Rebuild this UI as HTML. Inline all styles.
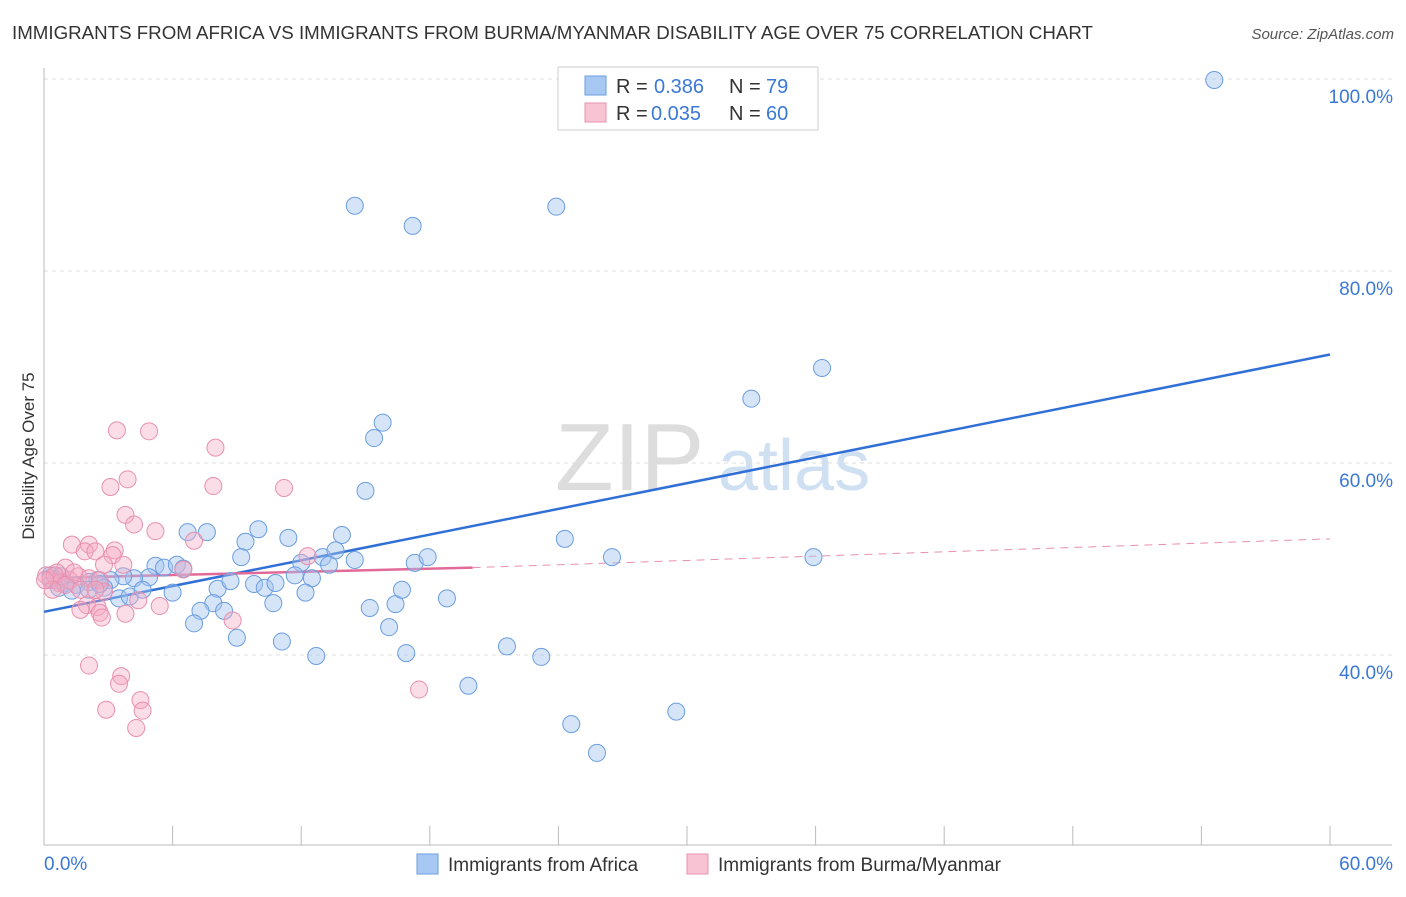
<!DOCTYPE html>
<html><head><meta charset="utf-8"><style>
body{margin:0;background:#fff;font-family:"Liberation Sans",sans-serif;}
svg text{font-family:"Liberation Sans",sans-serif;}
</style></head><body>
<svg id="chart" width="1406" height="892" xmlns="http://www.w3.org/2000/svg">
<text x="12" y="39" font-size="18" fill="#333" textLength="1081" lengthAdjust="spacingAndGlyphs">IMMIGRANTS FROM AFRICA VS IMMIGRANTS FROM BURMA/MYANMAR DISABILITY AGE OVER 75 CORRELATION CHART</text>
<text x="1394" y="39" font-size="15" fill="#555" text-anchor="end" font-style="italic">Source: ZipAtlas.com</text>
<g><text x="555" y="490" font-size="96" fill="#ddd" font-family="Liberation Serif">ZIP</text><text x="718" y="490" font-size="72" fill="#cfe0f3">atlas</text></g>
<g id="grid"></g><g id="axes"></g><g id="trends"></g><g id="pts"></g>
<text transform="translate(34,456) rotate(-90)" font-size="17" fill="#333" text-anchor="middle">Disability Age Over 75</text>
<g>
<rect x="558" y="67" width="260" height="63" fill="#fff" stroke="#ccc"/>
<rect x="585" y="76" width="21" height="19" fill="#a8c8f4" stroke="#6a9ee0"/>
<rect x="585" y="103" width="21" height="19" fill="#f8c4d4" stroke="#e890ae"/>
<text x="616" y="93" font-size="20" fill="#333">R =</text><text x="654" y="93" font-size="20" fill="#3a78d8">0.386</text>
<text x="729" y="93" font-size="20" fill="#333">N =</text><text x="766" y="93" font-size="20" fill="#3a78d8">79</text>
<text x="616" y="120" font-size="20" fill="#333">R =</text><text x="651" y="120" font-size="20" fill="#3a78d8">0.035</text>
<text x="729" y="120" font-size="20" fill="#333">N =</text><text x="766" y="120" font-size="20" fill="#3a78d8">60</text>
</g>
<g>
<rect x="417" y="854" width="21" height="20" fill="#a8c8f4" stroke="#6a9ee0"/>
<text x="448" y="871" font-size="19" fill="#333">Immigrants from Africa</text>
<rect x="687" y="854" width="21" height="20" fill="#f8c4d4" stroke="#e890ae"/>
<text x="718" y="871" font-size="19" fill="#333">Immigrants from Burma/Myanmar</text>
</g>
</svg>
<script>
const yTicks=[40,60,80,100];
const yTickLabels=["40.0%","60.0%","80.0%","100.0%"];
const xTickLabels=["0.0%","60.0%"];
const africaX=[54.6,14.5,17.2,23.9,36.3,33.0,15.8,15.4,15.0,24.3,26.5,35.9,6.7,7.6,10.0,9.4,9.2,11.4,13.9,13.0,13.6,14.5,12.0,13.3,17.3,17.9,5.2,5.6,6.2,6.5,4.9,4.2,3.7,3.1,2.5,2.1,1.5,1.0,0.6,0.3,0.7,1.3,2.1,2.8,3.5,4.0,4.6,6.0,8.1,8.7,9.8,10.3,10.8,11.7,12.5,12.2,10.7,7.9,7.3,8.4,7.0,9.0,11.1,12.7,15.2,16.4,16.7,18.8,16.1,16.9,19.8,21.6,23.2,24.6,25.8,29.5,0.3,0.8,2.6];
const africaY=[99.9,86.8,84.7,86.7,69.9,66.7,64.2,62.6,57.1,52.1,50.2,50.2,52.8,52.8,53.1,51.8,50.2,52.2,52.5,50.2,50.9,49.9,49.6,49.4,49.6,50.2,49.3,49.1,49.4,49.0,48.1,48.0,48.2,47.8,47.8,47.6,47.3,47.5,47.8,48.3,47.0,46.7,46.8,47.0,45.9,46.1,46.8,46.5,46.9,47.7,47.4,47.0,47.5,48.3,48.0,46.5,45.4,45.4,44.6,44.6,43.3,41.8,41.4,39.9,44.9,45.3,46.8,45.9,42.9,40.2,36.8,40.9,39.8,32.8,29.8,34.1,48.0,48.2,47.4];
const burmaX=[3.4,4.9,8.0,3.9,3.1,7.9,11.2,3.8,4.2,5.2,7.0,1.3,2.1,3.3,1.9,2.4,3.2,12.3,3.7,6.5,2.8,1.0,1.6,0.6,0.3,0.7,1.2,0.1,2.1,2.6,1.7,2.8,2.4,2.0,2.5,1.7,2.6,2.7,3.8,5.4,4.4,8.8,2.1,3.6,3.5,4.5,4.6,2.9,4.3,17.5,0.5,1.0,1.4,0.4,0.05];
const burmaY=[63.4,63.3,61.6,58.3,57.5,57.6,57.4,54.6,53.6,52.9,51.9,51.5,51.5,50.9,50.8,50.8,50.4,50.3,49.4,48.9,49.4,49.1,48.2,48.6,47.8,47.5,47.8,48.3,48.0,47.8,46.8,46.6,46.8,45.2,45.0,44.7,44.4,43.9,44.3,45.1,45.7,43.6,38.9,37.8,37.0,35.3,34.2,34.3,32.4,36.4,48.3,47.3,48.6,46.8,47.8];
const trendAfrica=[44.5,71.3];
const trendBurma=[48.0,49.1,52.1];
const NS="http://www.w3.org/2000/svg";
const xs=v=>44+v/60*1286, ys=v=>79+(100-v)*9.6;
function mk(p,t,a){const e=document.createElementNS(NS,t);for(const k in a)e.setAttribute(k,a[k]);document.getElementById(p).appendChild(e);return e;}
yTicks.forEach((t,i)=>{
 const l=mk('grid','line',{x1:44,x2:1392,y1:ys(t),y2:ys(t),stroke:'#ddd','stroke-dasharray':'4,4'});
 
 
 const tx=mk('grid','text',{x:1393,y:ys(t)+24,'font-size':19,fill:'#3a78d8','text-anchor':'end'});tx.textContent=yTickLabels[i];
 
 
});
const ax=mk('axes','path',{d:'M44,68V845H1392',stroke:'#bbb',fill:'none'});


for(let i=0;i<=10;i++){const t=mk('axes','line',{x1:xs(i*6),x2:xs(i*6),y1:826,y2:845,stroke:'#bbb'});
 
 }
const xl0=mk('axes','text',{x:44,y:870,'font-size':19,fill:'#3a78d8'});xl0.textContent=xTickLabels[0];


const xl1=mk('axes','text',{x:1393,y:870,'font-size':19,fill:'#3a78d8','text-anchor':'end'});xl1.textContent=xTickLabels[1];


africaX.forEach((x,i)=>{const c=mk('pts','circle',{cx:xs(x),cy:ys(africaY[i]),r:8.5,fill:'rgba(164,196,240,0.45)',stroke:'#6a9ee0','stroke-width':1});
 
 });
burmaX.forEach((x,i)=>{const c=mk('pts','circle',{cx:xs(x),cy:ys(burmaY[i]),r:8.5,fill:'rgba(246,170,196,0.4)',stroke:'#e890ae','stroke-width':1});
 
 });
const ta=mk('trends','line',{x1:xs(0),y1:ys(trendAfrica[0]),x2:xs(60),y2:ys(trendAfrica[1]),stroke:'#2f6fd6','stroke-width':2.5});


const tb=mk('trends','line',{x1:xs(0),y1:ys(trendBurma[0]),x2:xs(20),y2:ys(trendBurma[1]),stroke:'#e26a98','stroke-width':2.5});


const td=mk('trends','line',{x1:xs(20),y1:ys(trendBurma[1]),x2:xs(60),y2:ys(trendBurma[2]),stroke:'#e890ae','stroke-width':1,'stroke-dasharray':'8,6'});


</script>
</body></html>
